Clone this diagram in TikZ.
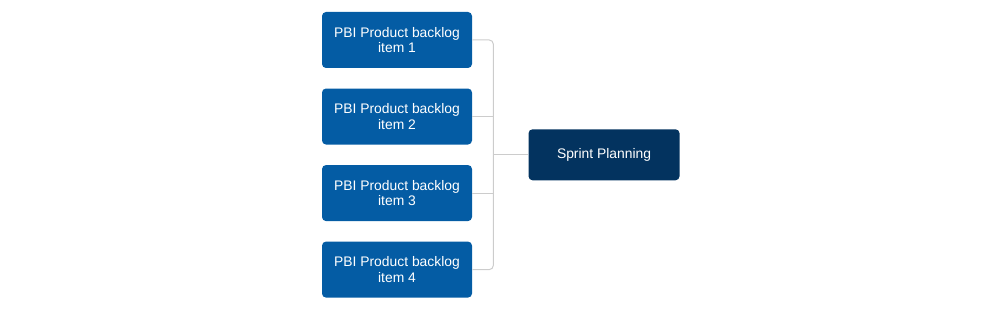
\documentclass[tikz,border=0pt]{standalone}
\usepackage{fontspec}
\setmainfont{Liberation Sans}
\usepackage{xcolor}
\usepackage{tikz}
\usetikzlibrary{positioning,calc}

\definecolor{pbiblue}{HTML}{045CA4}
\definecolor{sprintnavy}{HTML}{03335F}
\definecolor{linkgray}{HTML}{CCCCCC}

\begin{document}
\begin{tikzpicture}[
  node distance=15pt and 42pt,
  item/.style={fill=pbiblue, rounded corners=3pt, align=center, text=white,
    font=\fontsize{10.4pt}{11.8pt}\selectfont, minimum height=42pt, minimum width=112.5pt, inner sep=0pt},
  plan/.style={fill=sprintnavy, rounded corners=3pt, align=center, text=white,
    font=\fontsize{10.4pt}{11.8pt}\selectfont, minimum height=38.25pt, minimum width=113.25pt, inner sep=0pt},
  link/.style={draw=linkgray, line width=0.75pt, rounded corners=3pt}
]
\useasboundingbox (0,0) rectangle (750pt,-231.75pt);

\node[item] (i1) at (297.75pt,-30pt) {PBI Product backlog\\item 1};
\node[item, below=of i1] (i2) {PBI Product backlog\\item 2};
\node[item, below=of i2] (i3) {PBI Product backlog\\item 3};
\node[item, below=of i3] (i4) {PBI Product backlog\\item 4};

\coordinate (mid) at ($(i2.east)!0.5!(i3.east)$);
\node[plan, right=42pt of mid, anchor=west] (sp) {Sprint Planning};

\coordinate (j1) at ([xshift=15.75pt]i1.east);
\coordinate (j4) at ([xshift=15.75pt]i4.east);

\draw[link] (i1.east) -- (j1) -- (j4) -- (i4.east);
\draw[link] (i2.east) -- (i2.east -| j1);
\draw[link] (i3.east) -- (i3.east -| j1);
\draw[link] (sp.west) -- (sp.west -| j1);
\end{tikzpicture}
\end{document}
